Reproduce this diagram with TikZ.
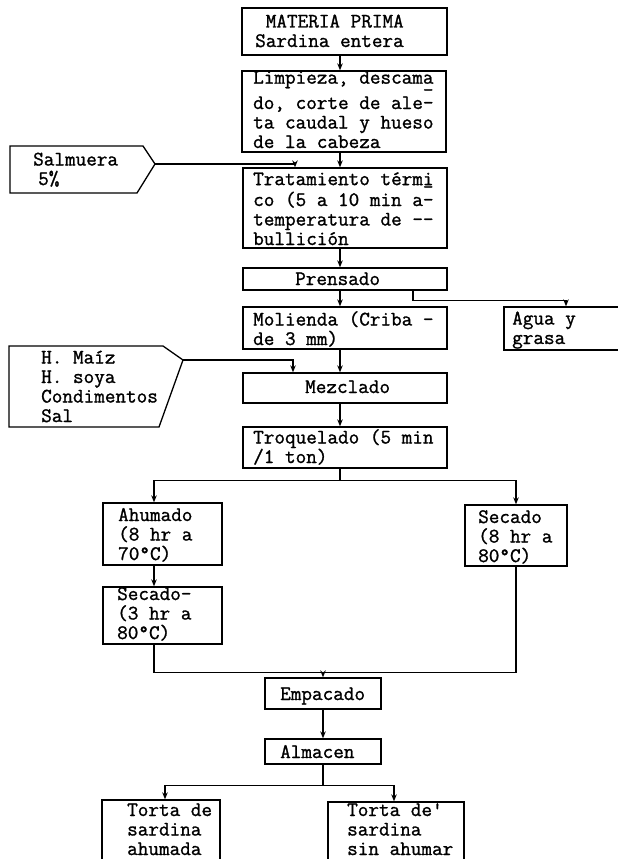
\documentclass[tikz,border=0pt]{standalone}
\usepackage{fontspec}
\newfontfamily\tw{Latin Modern Mono}[FakeBold=1.2]
\usetikzlibrary{arrows.meta,calc}
\newcommand\rhy{\rlap{\raisebox{0.62em}{-}}-}
\begin{document}
\begin{tikzpicture}[x=1pt,y=-1pt,
  bx/.style={draw,line width=1.3pt,inner sep=0pt},
  txt/.style={inner sep=0pt,align=left,anchor=base west,font=\fontsize{20.6}{19.5}\tw},
  ln/.style={line width=1.2pt},
  arr/.style={line width=1.2pt,-{Stealth[length=7pt,width=5.5pt]}}]
\useasboundingbox (0,0) rectangle (618,859);
\clip (0,0) rectangle (618,859);
\fill[white] (0,0) rectangle (618,859);
% boxes
\node[bx,minimum width=205pt,minimum height=47pt] (b1) at (344.5,31.5) {};
\node[bx,minimum width=204pt,minimum height=81pt] (lp) at (344,111.5) {};
\node[bx,minimum width=204pt,minimum height=80pt] (tr) at (345,208) {};
\node[bx,minimum width=204pt,minimum height=22pt] (pr) at (345,279) {};
\node[bx,minimum width=204pt,minimum height=42pt] (ml) at (345,328) {};
\node[bx,minimum width=124pt,minimum height=43pt] (ag) at (566,328.5) {};
\node[bx,minimum width=204pt,minimum height=30pt] (mz) at (345,388) {};
\node[bx,minimum width=204pt,minimum height=41pt] (tq) at (345,447.5) {};
\node[bx,minimum width=119pt,minimum height=62pt] (ah) at (162.5,534) {};
\node[bx,minimum width=119pt,minimum height=57pt] (sc) at (162.5,615.5) {};
\node[bx,minimum width=102pt,minimum height=61pt] (sr) at (516,535.5) {};
\node[bx,minimum width=116pt,minimum height=31pt] (em) at (323,693.5) {};
\node[bx,minimum width=116pt,minimum height=25pt] (al) at (323,751.5) {};
\node[bx,minimum width=118pt,minimum height=75pt] (tl) at (161,837.5) {};
\node[bx,minimum width=136pt,minimum height=73pt] (tt) at (396,838.5) {};
% input pentagons
\draw[line width=1.3pt] (10,146) -- (143,146) -- (155,164) -- (137,193) -- (10,193) -- cycle;
\coordinate (salp) at (155,164);
\draw[line width=1.3pt] (9,346) -- (163,346) -- (183,360) -- (159,427) -- (9,427) -- cycle;
\coordinate (hmp) at (183,360);
% texts (anchor = baseline of last line)
\node[txt] (t1) at (255,47) {\ MATERIA PRIMA\\Sardina entera};
\node[txt] (t2) at (253,148) {Limpieza, descama\\do, corte de ale\rhy\\ta caudal y hueso\\de la cabeza};
\node[txt] (t3) at (253,245) {Tratamiento térmi\\co (5 a 10 min a\rhy\\temperatura de --\\bullición};
\node[txt] (t4) at (295,285) {Prensado};
\node[txt] (t5) at (253,345) {Molienda (Criba -\\de 3 mm)};
\node[txt] (t6) at (512,344) {Agua y\\grasa};
\node[txt] (t7) at (305,393) {Mezclado};
\node[txt] (t8) at (253,463) {Troquelado (5 min\\/1 ton)};
\node[txt] (t9) at (118,560) {Ahumado\\(8 hr a\\70°C)};
\node[txt] (t10) at (117,639) {Secado-\\(3 hr a\\80°C)};
\node[txt] (t11) at (478,562) {Secado\\(8 hr a\\80°C)};
\node[txt] (t12) at (280,700) {Empacado};
\node[txt] (t13) at (280,758) {Almacen};
\node[txt] (t14) at (127,855) {Torta de\\sardina\\ahumada};
\node[txt] (t15) at (347,855) {Torta de'\\sardina\\sin ahumar};
\node[txt] (t16) at (33,185) {Salmuera\\\hspace{5pt}5\%};
\node[txt] (t17) at (41,422) {H. Maíz\\H. soya\\Condimentos\\Sal};
% connectors
\draw[arr] ([xshift=-4.5pt]b1.south) -- ([xshift=-4pt]lp.north);
\draw[arr] ([xshift=-4pt]lp.south) -- ([xshift=-5pt]tr.north);
\draw[arr] (salp) -| ([xshift=-50pt]tr.north);
\draw[arr] ([xshift=-5pt]tr.south) -- ([xshift=-5pt]pr.north);
\draw[arr] ([xshift=-5pt]pr.south) -- ([xshift=-5pt]ml.north);
\draw[arr] ([xshift=68pt]pr.south) -- ++(0,10) -| (ag.north);
\draw[arr] ([xshift=-5pt]ml.south) -- ([xshift=-5pt]mz.north);
\draw[arr] (hmp) -| ([xshift=-52pt]mz.north);
\draw[arr] ([xshift=-5pt]mz.south) -- ([xshift=-5pt]tq.north);
\draw[ln] ([xshift=-5pt]tq.south) -- ++(0,12) coordinate (tqs);
\draw[arr] (tqs) -| ([xshift=-8.5pt]ah.north);
\draw[arr] (tqs) -| (sr.north);
\draw[arr] ([xshift=-8.5pt]ah.south) -- ([xshift=-8.5pt]sc.north);
\draw[ln] ([xshift=-8.5pt]sc.south) -- ++(0,28) coordinate (jl) -- (jl -| sr.south) -- (sr.south);
\draw[arr] (jl -| em.north) -- (em.north);
\draw[arr] (em.south) -- (al.north);
\draw[ln] (al.south) -- ++(0,21) coordinate (as);
\draw[arr] (as) -| ([xshift=4pt]tl.north);
\draw[arr] (as) -| ([xshift=-2pt]tt.north);
\end{tikzpicture}
\end{document}
